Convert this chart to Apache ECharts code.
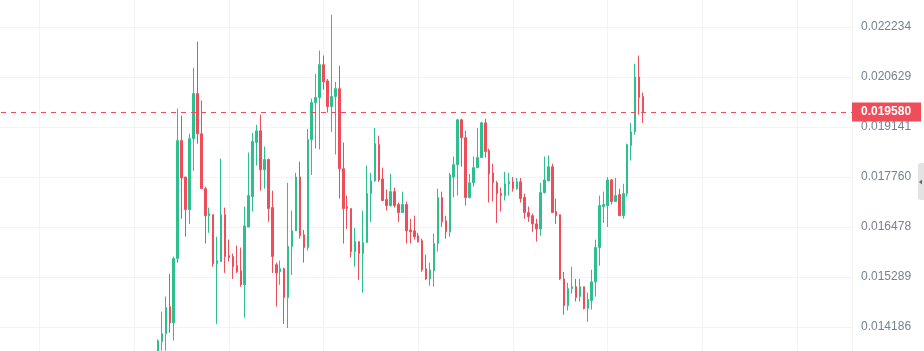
<!DOCTYPE html>
<html><head><meta charset="utf-8">
<script src="https://cdn.jsdelivr.net/npm/echarts@6/dist/echarts.min.js"></script>
<style>html,body{margin:0;padding:0;background:#fff}#c{width:924px;height:351px}</style>
</head><body><div id="c"></div>
<script>
// Right-axis tick labels (log-scaled price axis)
const tickLabels = ['0.014186','0.015289','0.016478','0.017760','0.019141','0.020629','0.022234'];
const lastPrice = 0.019580;

const openPrices = [
 0.013654,0.013879,0.014043,0.014627,0.014274,0.015717,0.018754,0.017760,0.016914,0.018810,
 0.020123,0.018948,0.017452,0.016760,0.016786,0.015598,0.015646,0.016786,0.015788,0.015765,
 0.015551,0.015432,0.015113,0.016478,0.017247,0.018699,0.019031,0.017953,0.018230,0.016965,
 0.015574,0.015408,0.015479,0.014826,0.016002,0.016383,0.017760,0.016288,0.015979,0.018782,
 0.019855,0.020004,0.021014,0.020510,0.019736,0.020034,0.020272,0.017981,0.016991,0.016940,
 0.015883,0.016121,0.015836,0.016098,0.017324,0.017657,0.018644,0.017709,0.017170,0.017016,
 0.017375,0.017042,0.016837,0.017042,0.016407,0.016383,0.016264,0.016145,0.015479,0.015245,
 0.015432,0.016074,0.017222,0.016632,0.016359,0.017760,0.018091,0.019349,0.018837,0.017222,
 0.017606,0.018009,0.018285,0.019260,0.018478,0.017870,0.017606,0.017324,0.017273,0.017581,
 0.017632,0.017452,0.017632,0.017222,0.016837,0.016760,0.016555,0.016430,0.017350,0.017657,
 0.018036,0.016863,0.016786,0.015245,0.014649,0.015024,0.015068,0.014848,0.015068,0.014583,
 0.014760,0.015179,0.015979,0.016991,0.017016,0.017683,0.017119,0.017298,0.016760,0.017324,
 0.018616,0.019003,0.020629,0.020034
];
const closePrices = [
 0.013899,0.014043,0.014605,0.014274,0.015717,0.018754,0.017734,0.016914,0.018810,0.020123,
 0.018948,0.017452,0.016760,0.016811,0.015598,0.015669,0.016786,0.015765,0.015741,0.015527,
 0.015408,0.015113,0.016504,0.017273,0.018727,0.019031,0.017953,0.018230,0.016940,0.015765,
 0.015384,0.015479,0.014826,0.016002,0.016383,0.017760,0.016264,0.015979,0.018782,0.019855,
 0.020004,0.021014,0.020480,0.019736,0.020034,0.020272,0.017981,0.016940,0.016940,0.015883,
 0.016121,0.015836,0.016098,0.017324,0.017657,0.018671,0.017683,0.017145,0.017016,0.017375,
 0.017016,0.016837,0.017042,0.016383,0.016359,0.016240,0.016121,0.015455,0.015245,0.015455,
 0.016074,0.017222,0.016606,0.016359,0.017815,0.018091,0.019349,0.018837,0.017222,0.017606,
 0.018009,0.018285,0.019260,0.018450,0.017843,0.017606,0.017324,0.017273,0.017581,0.017632,
 0.017452,0.017632,0.017196,0.016837,0.016734,0.016555,0.016430,0.017350,0.017683,0.018036,
 0.016837,0.016760,0.015245,0.014649,0.015024,0.015068,0.014826,0.015068,0.014583,0.014782,
 0.015179,0.015979,0.017016,0.017042,0.017683,0.017119,0.017273,0.016760,0.017324,0.018644,
 0.019003,0.020629,0.020004,0.019580
];
const lowPrices = [
 0.013592,0.013694,0.013694,0.014063,0.013899,0.015622,0.016683,0.016240,0.016555,0.017926,
 0.018671,0.017452,0.016074,0.016335,0.015527,0.014252,0.015646,0.015384,0.015646,0.015245,
 0.015384,0.015068,0.014385,0.016478,0.016863,0.018064,0.017401,0.017452,0.016606,0.015384,
 0.014627,0.015113,0.014252,0.014166,0.015337,0.016383,0.016193,0.015622,0.015907,0.017815,
 0.018533,0.018506,0.020242,0.019558,0.019003,0.018368,0.017196,0.016074,0.016430,0.015741,
 0.015527,0.015223,0.014936,0.016098,0.016606,0.017632,0.017632,0.017145,0.016888,0.016991,
 0.016965,0.016606,0.016837,0.016074,0.016074,0.016169,0.016098,0.015408,0.015223,0.015090,
 0.015068,0.015883,0.016478,0.016193,0.016240,0.017222,0.017273,0.018036,0.017016,0.017196,
 0.017504,0.018009,0.018285,0.018285,0.017093,0.017119,0.016581,0.016863,0.017145,0.017273,
 0.017375,0.017427,0.017093,0.016683,0.016606,0.016359,0.016121,0.016264,0.017324,0.017657,
 0.016837,0.016555,0.015223,0.014451,0.014539,0.014914,0.014737,0.014737,0.014561,0.014296,
 0.014561,0.014848,0.015551,0.016581,0.016478,0.017042,0.017119,0.016760,0.016683,0.017247,
 0.018202,0.018920,0.019498,0.019260
];
const highPrices = [
 0.013920,0.014517,0.014848,0.015360,0.015765,0.019677,0.019468,0.017760,0.018948,0.020918,
 0.021752,0.019915,0.017504,0.016965,0.016786,0.016240,0.018257,0.016965,0.016169,0.015836,
 0.016026,0.015979,0.016991,0.018423,0.018975,0.019201,0.019498,0.018589,0.018257,0.017401,
 0.015622,0.015669,0.015503,0.017606,0.016888,0.017870,0.018174,0.016407,0.019086,0.019974,
 0.020725,0.021464,0.021303,0.020569,0.022649,0.020480,0.020982,0.018699,0.017273,0.016940,
 0.016454,0.016121,0.016888,0.018064,0.017870,0.019113,0.018892,0.018009,0.017427,0.017843,
 0.017478,0.017093,0.017375,0.017119,0.016683,0.016760,0.016335,0.016193,0.015812,0.015622,
 0.016312,0.017452,0.017375,0.016760,0.017870,0.018312,0.019379,0.019379,0.019031,0.017843,
 0.018312,0.019113,0.019290,0.019379,0.018533,0.018119,0.017657,0.017478,0.017898,0.017870,
 0.017760,0.017734,0.017734,0.017324,0.016991,0.016811,0.016683,0.017606,0.018312,0.018340,
 0.018119,0.017196,0.016786,0.015408,0.015157,0.015527,0.015245,0.015245,0.015068,0.014936,
 0.015455,0.016169,0.017273,0.017375,0.017760,0.017709,0.017734,0.017452,0.017581,0.018671,
 0.019260,0.021046,0.021303,0.020153
];

const UP = '#2DC08E';
const DOWN = '#F04D5A';
const firstSlot = 6;

// log-scale mapping: one axis unit per tick step
const base = parseFloat(tickLabels[0]);
const step = Math.log(parseFloat(tickLabels[tickLabels.length - 1]) / base) / (tickLabels.length - 1);
const toAxis = p => Math.log(p / base) / step;

const candles = openPrices.map((o, i) => [
  firstSlot + i, toAxis(o), toAxis(closePrices[i]), toAxis(lowPrices[i]), toAxis(highPrices[i])
]);

const chart = echarts.init(document.getElementById('c'), null, {renderer: 'canvas'});
chart.setOption({
  animation: false,
  backgroundColor: '#ffffff',
  grid: {left: -55, right: 72, top: -23, bottom: -26, containLabel: false, outerBoundsMode: 'none'},
  xAxis: {
    type: 'value', min: -48, max: 182, interval: 24,
    axisLine: {show: false}, axisTick: {show: false}, axisLabel: {show: false},
    splitLine: {show: true, lineStyle: {color: '#F3F3F3', width: 1}}
  },
  yAxis: {
    type: 'value', position: 'right', min: -1, max: 7, interval: 1,
    axisLine: {show: false}, axisTick: {show: false},
    axisLabel: {
      margin: 9, color: '#76808F', fontSize: 12, fontFamily: 'Arial',
      formatter: v => {
        const k = Math.round(v);
        return (Math.abs(v - k) < 1e-6 && k >= 0 && k < tickLabels.length) ? tickLabels[k] : '';
      }
    },
    splitLine: {show: true, lineStyle: {color: '#F3F3F3', width: 1}}
  },
  series: [{
    type: 'candlestick',
    data: candles,
    barWidth: 2,
    itemStyle: {color: UP, color0: DOWN, borderColor: UP, borderColor0: DOWN, borderWidth: 1},
    markLine: {
      silent: true,
      symbol: 'none',
      animation: false,
      data: [{yAxis: toAxis(lastPrice)}],
      lineStyle: {color: DOWN, type: [5, 5], dashOffset: 4, width: 1},
      label: {
        position: 'end', distance: 0,
        formatter: lastPrice.toFixed(6),
        backgroundColor: DOWN, color: '#ffffff',
        fontSize: 12, fontFamily: 'Arial', fontWeight: 'bold',
        padding: [3, 10, 3, 9], lineHeight: 13
      }
    }
  }],
  graphic: [
    {type: 'rect', shape: {x: 918, y: 163, width: 10, height: 37, r: [3, 0, 0, 3]}, style: {fill: '#E3E3E3'}},
    {type: 'polygon', shape: {points: [[919, 182], [922, 179.5], [922, 184.5]]}, style: {fill: '#666666'}}
  ]
});
</script>
</body></html>
